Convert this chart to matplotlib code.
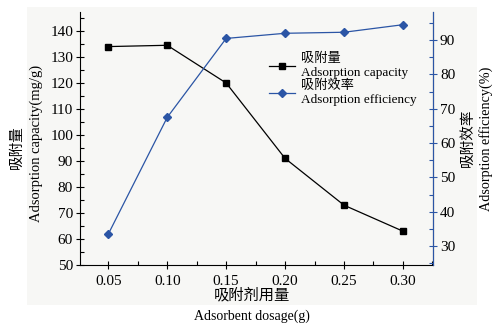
import matplotlib.pyplot as plt
from matplotlib.patches import Rectangle
from matplotlib.ticker import MultipleLocator

plt.rcParams['font.family'] = ['Liberation Serif', 'Noto Sans CJK SC']
plt.rcParams['axes.unicode_minus'] = False

# adsorbent dosage vs. adsorption capacity / efficiency
dosage = [0.05, 0.10, 0.15, 0.20, 0.25, 0.30]
capacity = [134.0, 134.5, 120.0, 91.0, 73.0, 63.0]
efficiency = [33.5, 67.5, 90.5, 92.0, 92.3, 94.5]
xtick_labels = ['0.05', '0.10', '0.15', '0.20', '0.25', '0.30']

blue = '#2b55a5'

fig = plt.figure(figsize=(4.94, 3.24), dpi=100)
fig.patch.set_facecolor('white')
# faint panel behind the plot
fig.patches.append(Rectangle((27 / 494, 1 - 305 / 324), (477 - 27) / 494, (305 - 7) / 324,
                             transform=fig.transFigure, facecolor='#f7f7f5',
                             edgecolor='none', zorder=-10))

ax = fig.add_axes([80 / 494, 1 - 265 / 324, (433 - 80) / 494, (265 - 12) / 324])
ax.patch.set_alpha(0)
ax2 = ax.twinx()

l1, = ax.plot(dosage, capacity, color='black', lw=0.9, marker='s', ms=4,
              label='吸附量\nAdsorption capacity')
l2, = ax2.plot(dosage, efficiency, color=blue, lw=0.9, marker='D', ms=3.6,
               label='吸附效率\nAdsorption efficiency')

ax.set_xlim(0.026, 0.3255)
ax.set_ylim(50, 147.3)
ax2.set_ylim(24.5, 98.2)

ax.set_xticks(dosage)
ax.set_xticklabels(xtick_labels)
ax.xaxis.set_minor_locator(MultipleLocator(0.025))
ax.yaxis.set_major_locator(MultipleLocator(10))
ax.yaxis.set_minor_locator(MultipleLocator(5))
ax2.yaxis.set_minor_locator(MultipleLocator(5))
ax2.set_yticks([30, 40, 50, 60, 70, 80, 90])

for a in (ax, ax2):
    a.spines['top'].set_visible(False)
    a.tick_params(which='major', direction='inout', length=6, width=0.8, labelsize=11, pad=2)
    a.tick_params(which='minor', direction='in', length=3, width=0.8)
ax.tick_params(axis='x', which='major', pad=4)
ax2.spines['right'].set_color(blue)
ax2.spines['left'].set_visible(False)
ax2.spines['bottom'].set_visible(False)
ax2.tick_params(axis='y', which='both', colors=blue, labelcolor='black')

fig.text(17 / 494, 1 - 147 / 324, '吸附量', rotation=90, ha='center', va='center', fontsize=10.5)
fig.text(36 / 494, 1 - 143 / 324, 'Adsorption capacity(mg/g)', rotation=90,
         ha='center', va='center', fontsize=10.5)
fig.text(468 / 494, 1 - 138 / 324, '吸附效率', rotation=90, ha='center', va='center', fontsize=10.5)
fig.text(486 / 494, 1 - 139 / 324, 'Adsorption efficiency(%)', rotation=90,
         ha='center', va='center', fontsize=10.2)
fig.text(252 / 494, 1 - 295 / 324, '吸附剂用量', ha='center', va='center', fontsize=11)
fig.text(252 / 494, 1 - 316 / 324, 'Adsorbent dosage(g)', ha='center', va='center', fontsize=10)

ax2.legend(handles=[l1, l2], loc='upper left', bbox_to_anchor=(0.52, 0.86),
           frameon=False, fontsize=9.5, handlelength=2.0, handletextpad=0.4,
           labelspacing=0.1, borderaxespad=0)

fig.savefig('out.png', dpi=100)
